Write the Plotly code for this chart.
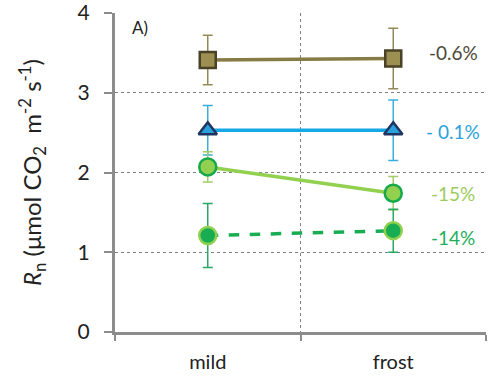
import plotly.graph_objects as go

categories = ["mild", "frost"]

olive_vals = [3.41, 3.43]
olive_err = [0.31, 0.38]
blue_vals = [2.53, 2.53]
blue_err = [0.31, 0.38]
lgreen_vals = [2.07, 1.74]
lgreen_err = [0.19, 0.21]
dgreen_vals = [1.21, 1.27]
dgreen_err = [0.40, 0.27]

pct_labels = ["-0.6%", "- 0.1%", "-15%", "-14%"]
pct_y = [3.5, 2.52, 1.74, 1.19]
pct_colors = ["#4a4838", "#2ba3dc", "#9ccc5a", "#1fae5a"]

FONT = "Lato, 'Open Sans', sans-serif"

fig = go.Figure()

def add(vals, err, line_color, dash, symbol, size, fill, border, err_color):
    fig.add_trace(go.Scatter(
        x=categories, y=vals, mode="lines+markers",
        line=dict(color=line_color, width=3.5, dash=dash),
        marker=dict(symbol=symbol, size=size, color=fill,
                    line=dict(color=border, width=2.5)),
        error_y=dict(type="data", array=err, visible=True,
                     color=err_color, thickness=1.5, width=5),
        showlegend=False,
    ))

add(olive_vals, olive_err, "#867b45", "solid", "square", 16, "#9b8f52", "#4a4226", "#948a58")
add(blue_vals, blue_err, "#16a8e6", "solid", "triangle-up", 16, "#2aa0dc", "#1f3560", "#3aaee0")
add(lgreen_vals, lgreen_err, "#92d050", "solid", "circle", 17, "#92d050", "#16a84a", "#a3cc6a")
add(dgreen_vals, dgreen_err, "#18ad52", "dash", "circle", 17, "#18ad52", "#92d050", "#2aa866")

for t, y, c in zip(pct_labels, pct_y, pct_colors):
    fig.add_annotation(x=1, y=y, xref="x", yref="y", text=t, showarrow=False,
                       xshift=60, font=dict(family=FONT, size=19, color=c))

fig.add_annotation(x=0.067, y=0.953, xref="paper", yref="paper", text="A)",
                   xanchor="center", yanchor="middle",
                   showarrow=False, font=dict(family=FONT, size=17, color="#222"))

fig.update_layout(
    width=490, height=383,
    margin=dict(l=115, r=4, t=13, b=51),
    plot_bgcolor="white", paper_bgcolor="white",
    font=dict(family=FONT, color="#222"),
)
fig.update_xaxes(
    type="category", range=[-0.5, 1.5], tickson="boundaries",
    ticks="outside", ticklen=6, tickwidth=2, tickcolor="#8c8c8c",
    showline=True, linecolor="#8c8c8c", linewidth=3,
    showgrid=True, gridcolor="#808080", griddash="dot", gridwidth=1,
    ticklabelstandoff=10, automargin=False,
    tickfont=dict(size=20, family=FONT, color="#222"),
)
fig.update_yaxes(
    range=[0, 4], dtick=1, ticks="outside", ticklen=8, tickwidth=2,
    tickcolor="#8c8c8c", showline=True, linecolor="#8c8c8c", linewidth=3,
    showgrid=True, gridcolor="#808080", griddash="dot", gridwidth=1,
    zeroline=False, ticklabeloverflow="allow", ticklabelstandoff=10,
    automargin=False,
    tickfont=dict(size=21, family=FONT, color="#222"),
    title=dict(text="<i>R</i><sub>n</sub> (μmol CO<sub>2</sub>  m<sup>-2</sup> s<sup>-1</sup>)",
               font=dict(size=24, family=FONT, color="#222"), standoff=30),
)

fig.write_html("out.html", config={"displayModeBar": False},
               post_script="document.body.style.margin='0';")
